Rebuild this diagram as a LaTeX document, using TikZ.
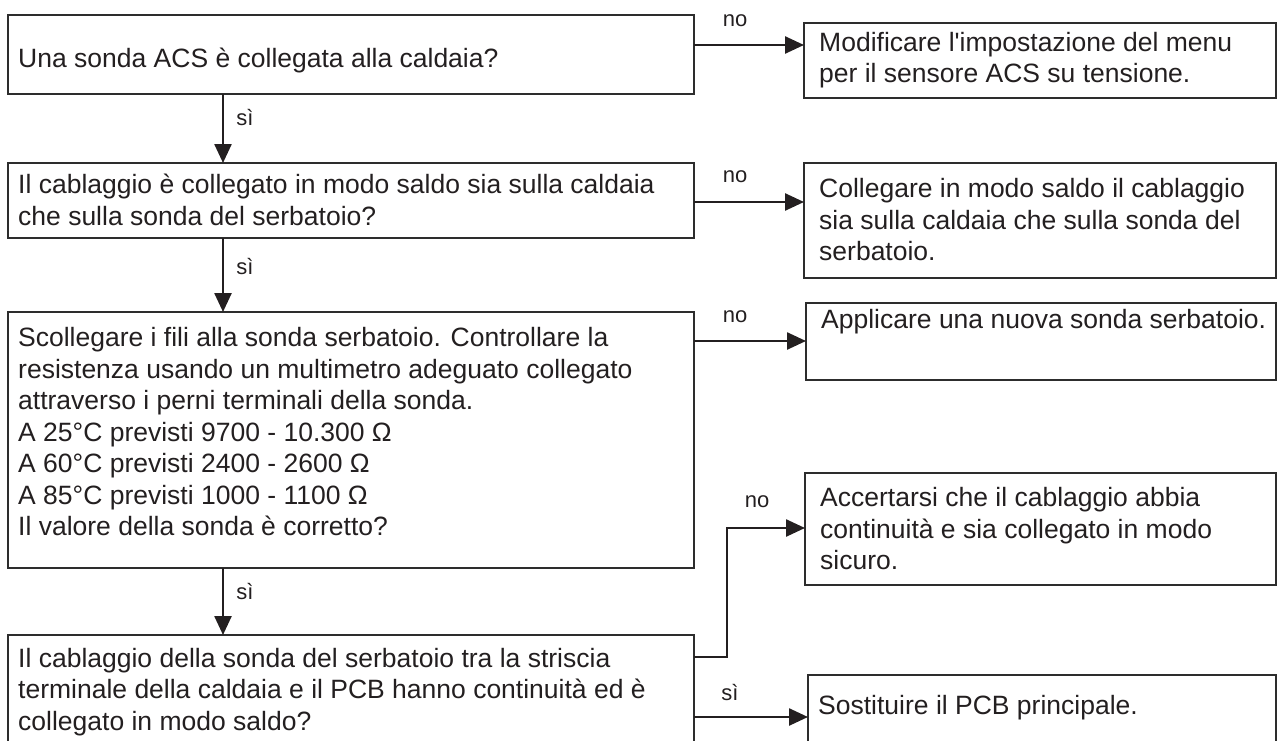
\documentclass[tikz,border=0pt]{standalone}
\usepackage{fontspec}
\setmainfont{Liberation Sans}
\usetikzlibrary{arrows.meta}
\definecolor{ink}{RGB}{35,31,32}
\definecolor{frame}{RGB}{45,45,45}
\begin{document}
\begin{tikzpicture}[x=1pt,y=-1pt,
  box/.style={draw=frame, line width=2.5pt, rectangle, inner sep=0pt, outer sep=0pt, anchor=north west},
  txt/.style={inner sep=0pt, anchor=west, align=left, text=ink, font=\fontsize{26.5}{31.5}\selectfont},
  lbl/.style={inner sep=0pt, text=ink, font=\fontsize{22}{26}\selectfont},
  arr/.style={draw=ink, line width=2.5pt, -{Triangle[length=19pt,width=17pt]}}]
\useasboundingbox (0,0) rectangle (1279,741);
% boxes
\node[box, minimum width=686pt, minimum height=79pt]  (b1) at (8,15) {};
\node[box, minimum width=472pt, minimum height=75pt]  (b2) at (804,23) {};
\node[box, minimum width=686pt, minimum height=75pt]  (b3) at (8,163) {};
\node[box, minimum width=472pt, minimum height=115pt] (b4) at (804,163) {};
\node[box, minimum width=686pt, minimum height=256pt] (b5) at (8,312) {};
\node[box, minimum width=470pt, minimum height=77pt]  (b6) at (806,303) {};
\node[box, minimum width=471pt, minimum height=112pt] (b8) at (805,473) {};
\node[box, minimum width=686pt, minimum height=150pt] (b7) at (8,635) {};
\node[box, minimum width=468pt, minimum height=150pt] (b9) at (808,675) {};
% texts
\node[txt] (t1) at (18,60) {Una sonda ACS è collegata alla caldaia?};
\node[txt] (t2) at (819,60) {Modificare l\textquotesingle impostazione del menu\\per il sensore ACS su tensione.};
\node[txt] (t3) at (18,200) {Il cablaggio è collegato in modo saldo sia sulla caldaia\\che sulla sonda del serbatoio?};
\node[txt] (t4) at (819,220) {Collegare in modo saldo il cablaggio\\sia sulla caldaia che sulla sonda del\\serbatoio.};
\node[txt] (t5) at (18,432) {Scollegare i fili alla sonda serbatoio. Controllare la\\resistenza usando un multimetro adeguato collegato\\attraverso i perni terminali della sonda.\\A 25°C previsti 9700 - 10.300 Ω\\A 60°C previsti 2400 - 2600 Ω\\A 85°C previsti 1000 - 1100 Ω\\Il valore della sonda è corretto?};
\node[txt] (t6) at (821,322) {Applicare una nuova sonda serbatoio.};
\node[txt] (t8) at (820,529) {Accertarsi che il cablaggio abbia\\continuità e sia collegato in modo\\sicuro.};
\node[txt] (t7) at (18,692) {Il cablaggio della sonda del serbatoio tra la striscia\\terminale della caldaia e il PCB hanno continuità ed è\\collegato in modo saldo?};
\node[txt] (t9) at (818,708) {Sostituire il PCB principale.};
% labels
\node[lbl] (n1) at (735,21) {no};
\node[lbl] (n2) at (735,177) {no};
\node[lbl] (n3) at (735,317) {no};
\node[lbl] (n4) at (757,502) {no};
\node[lbl] (s1) at (245,118) {sì};
\node[lbl] (s2) at (245,267) {sì};
\node[lbl] (s3) at (245,592) {sì};
\node[lbl] (s4) at (730,692) {sì};
% connectors
\coordinate (h1) at (0,45);
\coordinate (h2) at (0,202);
\coordinate (h3) at (0,341);
\coordinate (h5) at (0,717);
\coordinate (vx) at (223,0);
\coordinate (k1) at (727,657);
\coordinate (k2) at (727,528);
\draw[arr] (b1.east |- h1) -- (b2.west |- h1);
\draw[arr] (b3.east |- h2) -- (b4.west |- h2);
\draw[arr] (b5.east |- h3) -- (b6.west |- h3);
\draw[arr] (b7.east |- h5) -- (b9.west |- h5);
\draw[arr] (b7.east |- k1) -- (k1) -- (k2) -- (b8.west |- k2);
\draw[arr] (b1.south -| vx) -- (b3.north -| vx);
\draw[arr] (b3.south -| vx) -- (b5.north -| vx);
\draw[arr] (b5.south -| vx) -- (b7.north -| vx);
\end{tikzpicture}
\end{document}
